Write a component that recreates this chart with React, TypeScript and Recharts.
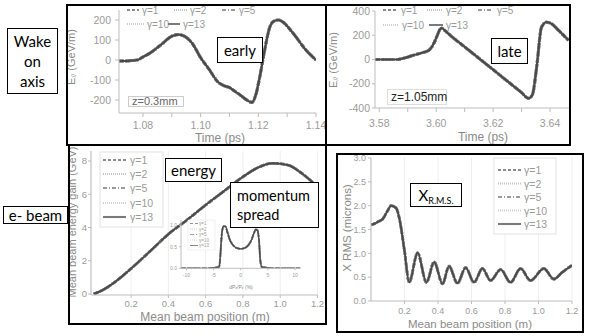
import React from 'react';
import { LineChart, Line, XAxis, YAxis, CartesianGrid } from 'recharts';

// ---------- data ----------
const gammaLabels = ['γ=1', 'γ=2', 'γ=5', 'γ=10', 'γ=13'];
const seriesKeys = ['g1', 'g2', 'g5', 'g10', 'g13'];

// early wake (z = 0.3 mm)
const earlyTime = [1.0717, 1.074, 1.076, 1.078, 1.08, 1.0825, 1.085, 1.087, 1.089, 1.0905, 1.0925, 1.0945, 1.097, 1.1, 1.103, 1.106, 1.108, 1.11, 1.112, 1.114, 1.116, 1.1178, 1.119, 1.1205, 1.1222, 1.124, 1.1255, 1.127, 1.1285, 1.132, 1.1365, 1.14];
const earlyWake = [-5, -5, -3, 0, 15, 35, 62, 85, 110, 122, 127, 118, 85, 12, -48, -110, -128, -138, -158, -178, -200, -212, -180, -85, 50, 165, 195, 200, 190, 135, 50, 0];

// late wake (z = 1.05 mm)
const lateTime = [3.5785, 3.582, 3.586, 3.59, 3.592, 3.595, 3.5975, 3.5985, 3.5995, 3.6005, 3.6012, 3.602, 3.603, 3.605, 3.61, 3.615, 3.62, 3.625, 3.63, 3.6324, 3.6338, 3.6353, 3.637, 3.6388, 3.6405, 3.643, 3.6465];
const lateWake = [0, 0, 0, 20, 35, 55, 78, 105, 150, 205, 245, 258, 240, 198, 104, 10, -84, -179, -273, -320, -290, -60, 267, 308, 295, 240, 158];

// mean beam energy gain
const energyPos = [0, 0.05, 0.1, 0.2, 0.3, 0.4, 0.5, 0.6, 0.7, 0.8, 0.88, 0.96, 1.04, 1.12, 1.2];
const energyGain = [0, 0.25, 0.61, 1.53, 2.55, 3.6, 4.45, 5.35, 6.2, 7.05, 7.6, 7.86, 7.76, 7.22, 6.45];

// momentum spread inset
const spreadPct = [-11, -6, -5, -4.5, -4, -3.8, -3.6, -3.4, -3.1, -2.8, -2.4, -2, -1.5, -1, -0.5, 0, 0.5, 1, 1.5, 2, 2.4, 2.8, 3.1, 3.4, 3.6, 3.9, 4.5, 5, 6, 11];
const spreadDensity = [0, 0, 0.01, 0.02, 0.03, 0.2, 0.6, 0.88, 0.98, 0.97, 0.82, 0.66, 0.55, 0.49, 0.46, 0.45, 0.46, 0.49, 0.55, 0.66, 0.8, 0.9, 0.88, 0.6, 0.2, 0.03, 0.02, 0.01, 0, 0];

// X RMS
const rmsPos = [0, 0.02, 0.04, 0.07, 0.1, 0.12, 0.15, 0.17, 0.2, 0.228, 0.278, 0.331, 0.377, 0.427, 0.466, 0.516, 0.565, 0.615, 0.665, 0.714, 0.774, 0.833, 0.893, 0.952, 1.032, 1.091, 1.141, 1.2];
const rmsX = [1.6, 1.62, 1.66, 1.72, 1.9, 2.0, 1.95, 1.72, 1.05, 0.39, 1.01, 0.39, 0.82, 0.36, 0.73, 0.37, 0.7, 0.39, 0.68, 0.43, 0.66, 0.39, 0.68, 0.43, 0.68, 0.46, 0.6, 0.75];

// ticks
const earlyTimeTicks = [1.08, 1.09, 1.1, 1.11, 1.12, 1.13, 1.14];
const earlyWakeTicks = [-200, -100, 0, 100, 200];
const lateTimeTicks = [3.58, 3.59, 3.6, 3.61, 3.62, 3.63, 3.64];
const lateWakeTicks = [-400, -200, 0, 200, 400];
const positionTicks = [0.2, 0.4, 0.6, 0.8, 1.0, 1.2];
const energyTicks = [0, 2, 4, 6, 8];
const rmsTicks = [0, 0.5, 1, 1.5, 2, 2.5, 3];
const spreadTicks = [-10, -5, 0, 5, 10];
const densityTicks = [0, 0.5, 1];

// ---------- styles ----------
const SANS = '"Liberation Sans", Arial, sans-serif';
const BOXFONT = 'Lato, "Liberation Sans", sans-serif';
const TICKCOL = '#9a9a9a';
const TITLECOL = '#8a8a8a';

const lineStyles = [
  { key: 'g1', stroke: '#7a7a7a', dash: '4 3', w: 3 },
  { key: 'g2', stroke: '#8a8a8a', dash: '1.5 1.5', w: 3 },
  { key: 'g5', stroke: '#7a7a7a', dash: '5 2 1.5 2', w: 3 },
  { key: 'g10', stroke: '#999999', dash: '1.5 1.5', w: 3 },
  { key: 'g13', stroke: '#4a4a4a', dash: undefined as string | undefined, w: 2.2 },
];
const legendStyles = [
  { stroke: '#8a8a8a', dash: '3 2', w: 2 },
  { stroke: '#c4c4c4', dash: '1 1', w: 2 },
  { stroke: '#9a9a9a', dash: '4 2 1 2', w: 2 },
  { stroke: '#d0d0d0', dash: '1 1', w: 2 },
  { stroke: '#7a7a7a', dash: undefined as string | undefined, w: 2 },
];

function table(xs: number[], ys: number[]) {
  return xs.map((x, i) => {
    const row: any = { x };
    seriesKeys.forEach((k) => (row[k] = ys[i]));
    return row;
  });
}

const earlyData = table(earlyTime, earlyWake);
const lateData = table(lateTime, lateWake);
const energyData = table(energyPos, energyGain);
const spreadData = table(spreadPct, spreadDensity);
const rmsData = table(rmsPos, rmsX);

const evenHundredth = (v: number) => (Math.round(v * 100) % 2 === 0 ? v.toFixed(2) : '');

function chart(o: any) {
  const tick = { fill: TICKCOL, fontSize: o.fs, fontFamily: SANS };
  return (
    <div style={{ position: 'absolute', left: o.left, top: o.top }}>
      <LineChart width={o.width} height={o.height} data={o.data} margin={{ top: o.mt, right: o.mr, bottom: 0, left: 0 }}>
        {o.grid ? <CartesianGrid horizontal={false} stroke="#efefef" /> : null}
        <XAxis
          type="number"
          dataKey="x"
          domain={o.xDomain}
          ticks={o.xTicks}
          tickFormatter={o.xFmt}
          allowDataOverflow
          interval={0}
          height={o.xh}
          tick={tick}
          tickSize={o.xts}
          tickMargin={o.xtm}
          axisLine={{ stroke: '#bdbdbd' }}
          tickLine={{ stroke: '#bdbdbd' }}
        />
        <YAxis
          type="number"
          domain={o.yDomain}
          ticks={o.yTicks}
          tickFormatter={o.yFmt}
          allowDataOverflow
          interval={0}
          width={o.yw}
          tick={tick}
          tickSize={o.yts}
          tickMargin={o.ytm}
          axisLine={{ stroke: '#bdbdbd' }}
          tickLine={{ stroke: '#bdbdbd' }}
        />
        {lineStyles.map((s) => (
          <Line
            key={s.key}
            type="monotone"
            dataKey={s.key}
            stroke={s.stroke}
            strokeWidth={s.w * o.lw}
            strokeDasharray={s.dash}
            dot={false}
            activeDot={false}
            isAnimationActive={false}
          />
        ))}
      </LineChart>
    </div>
  );
}

function legendEntry(i: number, x1: number, x2: number, tx: number, y: number, fs: number, k: string) {
  const s = legendStyles[i];
  return (
    <g key={k}>
      <line x1={x1} x2={x2} y1={y} y2={y} stroke={s.stroke} strokeWidth={s.w * (fs / 10)} strokeDasharray={s.dash} />
      <text x={tx} y={y} dominantBaseline="central" fontSize={fs} fill={TICKCOL} fontFamily={SANS}>
        {gammaLabels[i]}
      </text>
    </g>
  );
}

function Box(p: any) {
  return (
    <div
      style={{
        position: 'absolute',
        left: p.x,
        top: p.y,
        width: p.w,
        height: p.h,
        boxSizing: 'border-box',
        border: p.border || '1.5px solid #000',
        background: '#fff',
        display: 'flex',
        flexDirection: 'column',
        justifyContent: 'center',
        alignItems: p.align || 'center',
        paddingLeft: p.pl || 0,
        fontFamily: p.font || BOXFONT,
        fontSize: p.fs,
        lineHeight: p.lh ? p.lh + 'px' : 1,
        color: p.color || '#000',
        whiteSpace: 'nowrap',
      }}
    >
      {p.children}
    </div>
  );
}

function Frame(p: any) {
  return (
    <div
      style={{
        position: 'absolute',
        left: p.x,
        top: p.y,
        width: p.w,
        height: p.h,
        boxSizing: 'border-box',
        border: '2px solid #000',
      }}
    />
  );
}

export default function App() {
  return (
    <div style={{ position: 'absolute', left: 0, top: 0, width: 592, height: 336, background: '#fff', overflow: 'hidden', fontFamily: SANS }}>
      {chart({
        left: 67, top: 5, width: 259, height: 140, mt: 5, mr: 10, yw: 52, xh: 32,
        data: earlyData, xDomain: [1.0717, 1.14], xTicks: earlyTimeTicks, xFmt: evenHundredth,
        yDomain: [-265, 250], yTicks: earlyWakeTicks, yFmt: (v: number) => String(v),
        fs: 10.5, xts: 4, xtm: 5, yts: 4, ytm: 4, lw: 1,
      })}
      {chart({
        left: 326, top: 5, width: 244, height: 140, mt: 6, mr: 0, yw: 49, xh: 37,
        data: lateData, xDomain: [3.5785, 3.647], xTicks: lateTimeTicks, xFmt: evenHundredth,
        yDomain: [-400, 400], yTicks: lateWakeTicks, yFmt: (v: number) => String(v),
        fs: 10.5, xts: 4, xtm: 8, yts: 3, ytm: 2, lw: 1,
      })}
      {chart({
        left: 69, top: 145, width: 258, height: 179, mt: 6, mr: 9.5, yw: 22, xh: 29, grid: true,
        data: energyData, xDomain: [-0.015, 1.2], xTicks: positionTicks, xFmt: (v: number) => v.toFixed(1),
        yDomain: [-0.06, 8.6], yTicks: energyTicks, yFmt: (v: number) => String(v),
        fs: 9.5, xts: 3, xtm: 2, yts: 3, ytm: 1, lw: 0.9,
      })}
      {chart({
        left: 165, top: 216, width: 138, height: 76, mt: 4, mr: 2.6, yw: 16, xh: 23.7,
        data: spreadData, xDomain: [-11, 11], xTicks: spreadTicks, xFmt: (v: number) => String(v),
        yDomain: [0, 1.12], yTicks: densityTicks, yFmt: (v: number) => v.toFixed(1),
        fs: 5, xts: 2, xtm: 3, yts: 2, ytm: 2, lw: 0.6,
      })}
      {chart({
        left: 337, top: 154, width: 246, height: 178, mt: 4, mr: 11, yw: 34, xh: 31, grid: true,
        data: rmsData, xDomain: [0, 1.2], xTicks: positionTicks, xFmt: (v: number) => v.toFixed(1),
        yDomain: [0, 3], yTicks: rmsTicks, yFmt: (v: number) => v.toFixed(1),
        fs: 9, xts: 3, xtm: 4, yts: 3, ytm: 2, lw: 0.9,
      })}

      <svg width={592} height={336} style={{ position: 'absolute', left: 0, top: 0, pointerEvents: 'none' }}>
        {/* axis titles */}
        <text transform="translate(71,57) rotate(-90)" textAnchor="middle" dominantBaseline="central" fontSize={11} fill={TITLECOL}>
          E<tspan fontSize={7} dy={2}>//</tspan><tspan dy={-2}> (GeV/m)</tspan>
        </text>
        <text x={220} y={138} textAnchor="middle" dominantBaseline="central" fontSize={12} fill={TITLECOL}>Time (ps)</text>
        <text transform="translate(333,60) rotate(-90)" textAnchor="middle" dominantBaseline="central" fontSize={11} fill={TITLECOL}>
          E<tspan fontSize={7} dy={2}>//</tspan><tspan dy={-2}> (GeV/m)</tspan>
        </text>
        <text x={483} y={137} textAnchor="middle" dominantBaseline="central" fontSize={12} fill={TITLECOL}>Time (ps)</text>
        <text transform="translate(72,222) rotate(-90)" textAnchor="middle" dominantBaseline="central" fontSize={11} fill={TITLECOL}>Mean beam energy gain (GeV)</text>
        <text x={205} y={317} textAnchor="middle" dominantBaseline="central" fontSize={12} fill={TITLECOL}>Mean beam position (m)</text>
        <text transform="translate(347,228) rotate(-90)" textAnchor="middle" dominantBaseline="central" fontSize={11.5} fill={TITLECOL}>X RMS (microns)</text>
        <text x={470} y={324} textAnchor="middle" dominantBaseline="central" fontSize={11.5} fill={TITLECOL}>Mean beam position (m)</text>
        <text x={241} y={287} textAnchor="middle" dominantBaseline="central" fontSize={5} fill={TITLECOL}>
          dP<tspan fontSize={3.5} dy={1}>z</tspan><tspan dy={-1}>/P</tspan><tspan fontSize={3.5} dy={1}>z</tspan><tspan dy={-1}> (%)</tspan>
        </text>
        <text x={160} y={242} textAnchor="middle" dominantBaseline="central" fontSize={5} fill={TITLECOL}>f</text>

        {/* top-left legend */}
        {legendEntry(0, 127, 139, 142, 10, 10, 'a0')}
        {legendEntry(1, 174, 187, 190, 10, 10, 'a1')}
        {legendEntry(2, 222, 235, 239, 10, 10, 'a2')}
        {legendEntry(3, 127, 144, 147, 24, 10, 'a3')}
        {legendEntry(4, 168, 180, 183, 24, 10, 'a4')}

        {/* top-right legend */}
        {legendEntry(0, 383, 398, 401, 10, 10, 'b0')}
        {legendEntry(1, 427, 442, 446, 10, 10, 'b1')}
        {legendEntry(2, 478, 493, 497, 10, 10, 'b2')}
        {legendEntry(3, 383, 399, 402, 25, 10, 'b3')}
        {legendEntry(4, 429, 443, 446, 25, 10, 'b4')}

        {/* bottom-left legend */}
        <rect x={100} y={152} width={63} height={75} fill="#fff" stroke="#e2e2e2" />
        {[160, 174, 188, 203, 217].map((y, i) => legendEntry(i, 103, 126, 130, y, 10.5, 'c' + i))}

        {/* bottom-right legend */}
        <rect x={494} y={158} width={62} height={76} fill="#fff" stroke="#e2e2e2" />
        {[170, 183.5, 197, 210.5, 224].map((y, i) => legendEntry(i, 498, 521, 524, y, 10.5, 'd' + i))}

        {/* inset legend */}
        <rect x={188} y={220} width={27} height={30} fill="#fff" stroke="#e2e2e2" strokeWidth={0.5} />
        {[223.5, 229, 234.5, 240, 245.5].map((y, i) => legendEntry(i, 190, 198, 199, y, 4.5, 'e' + i))}
      </svg>

      {/* panel frames */}
      <Frame x={66} y={4} w={261} h={142} />
      <Frame x={325} y={4} w={246} h={142} />
      <Frame x={68} y={144} w={259} h={181} />
      <Frame x={336} y={153} w={248} h={180} />

      {/* annotation boxes */}
      <Box x={7} y={28} w={51} h={66} fs={15} lh={20}>
        <span>Wake</span>
        <span>on</span>
        <span>axis</span>
      </Box>
      <Box x={3} y={206} w={65} h={18} fs={15}>e- beam</Box>
      <Box x={217} y={37} w={46} h={26} fs={15}>early</Box>
      <Box x={491} y={38} w={37} h={26} fs={15}>late</Box>
      <Box x={165} y={158} w={57} h={24} fs={15}>energy</Box>
      <Box x={230} y={182} w={89} h={46} fs={14.5} lh={19} align="flex-start" pl={6}>
        <span>momentum</span>
        <span>spread</span>
      </Box>
      <Box x={410} y={183} w={52} h={24} fs={15}>
        <span>X<sub style={{ fontSize: 9, verticalAlign: 'baseline', position: 'relative', top: 3 }}>R.M.S.</sub></span>
      </Box>
      <Box x={128} y={96} w={56} h={11} fs={11} border="1px solid #cccccc" color="#666" font={SANS} align="flex-start" pl={3}>z=0.3mm</Box>
      <Box x={387} y={89} w={60} h={16} fs={12} border="1px solid #dddddd" color="#222" font={SANS} align="flex-start" pl={3}>z=1.05mm</Box>
    </div>
  );
}
